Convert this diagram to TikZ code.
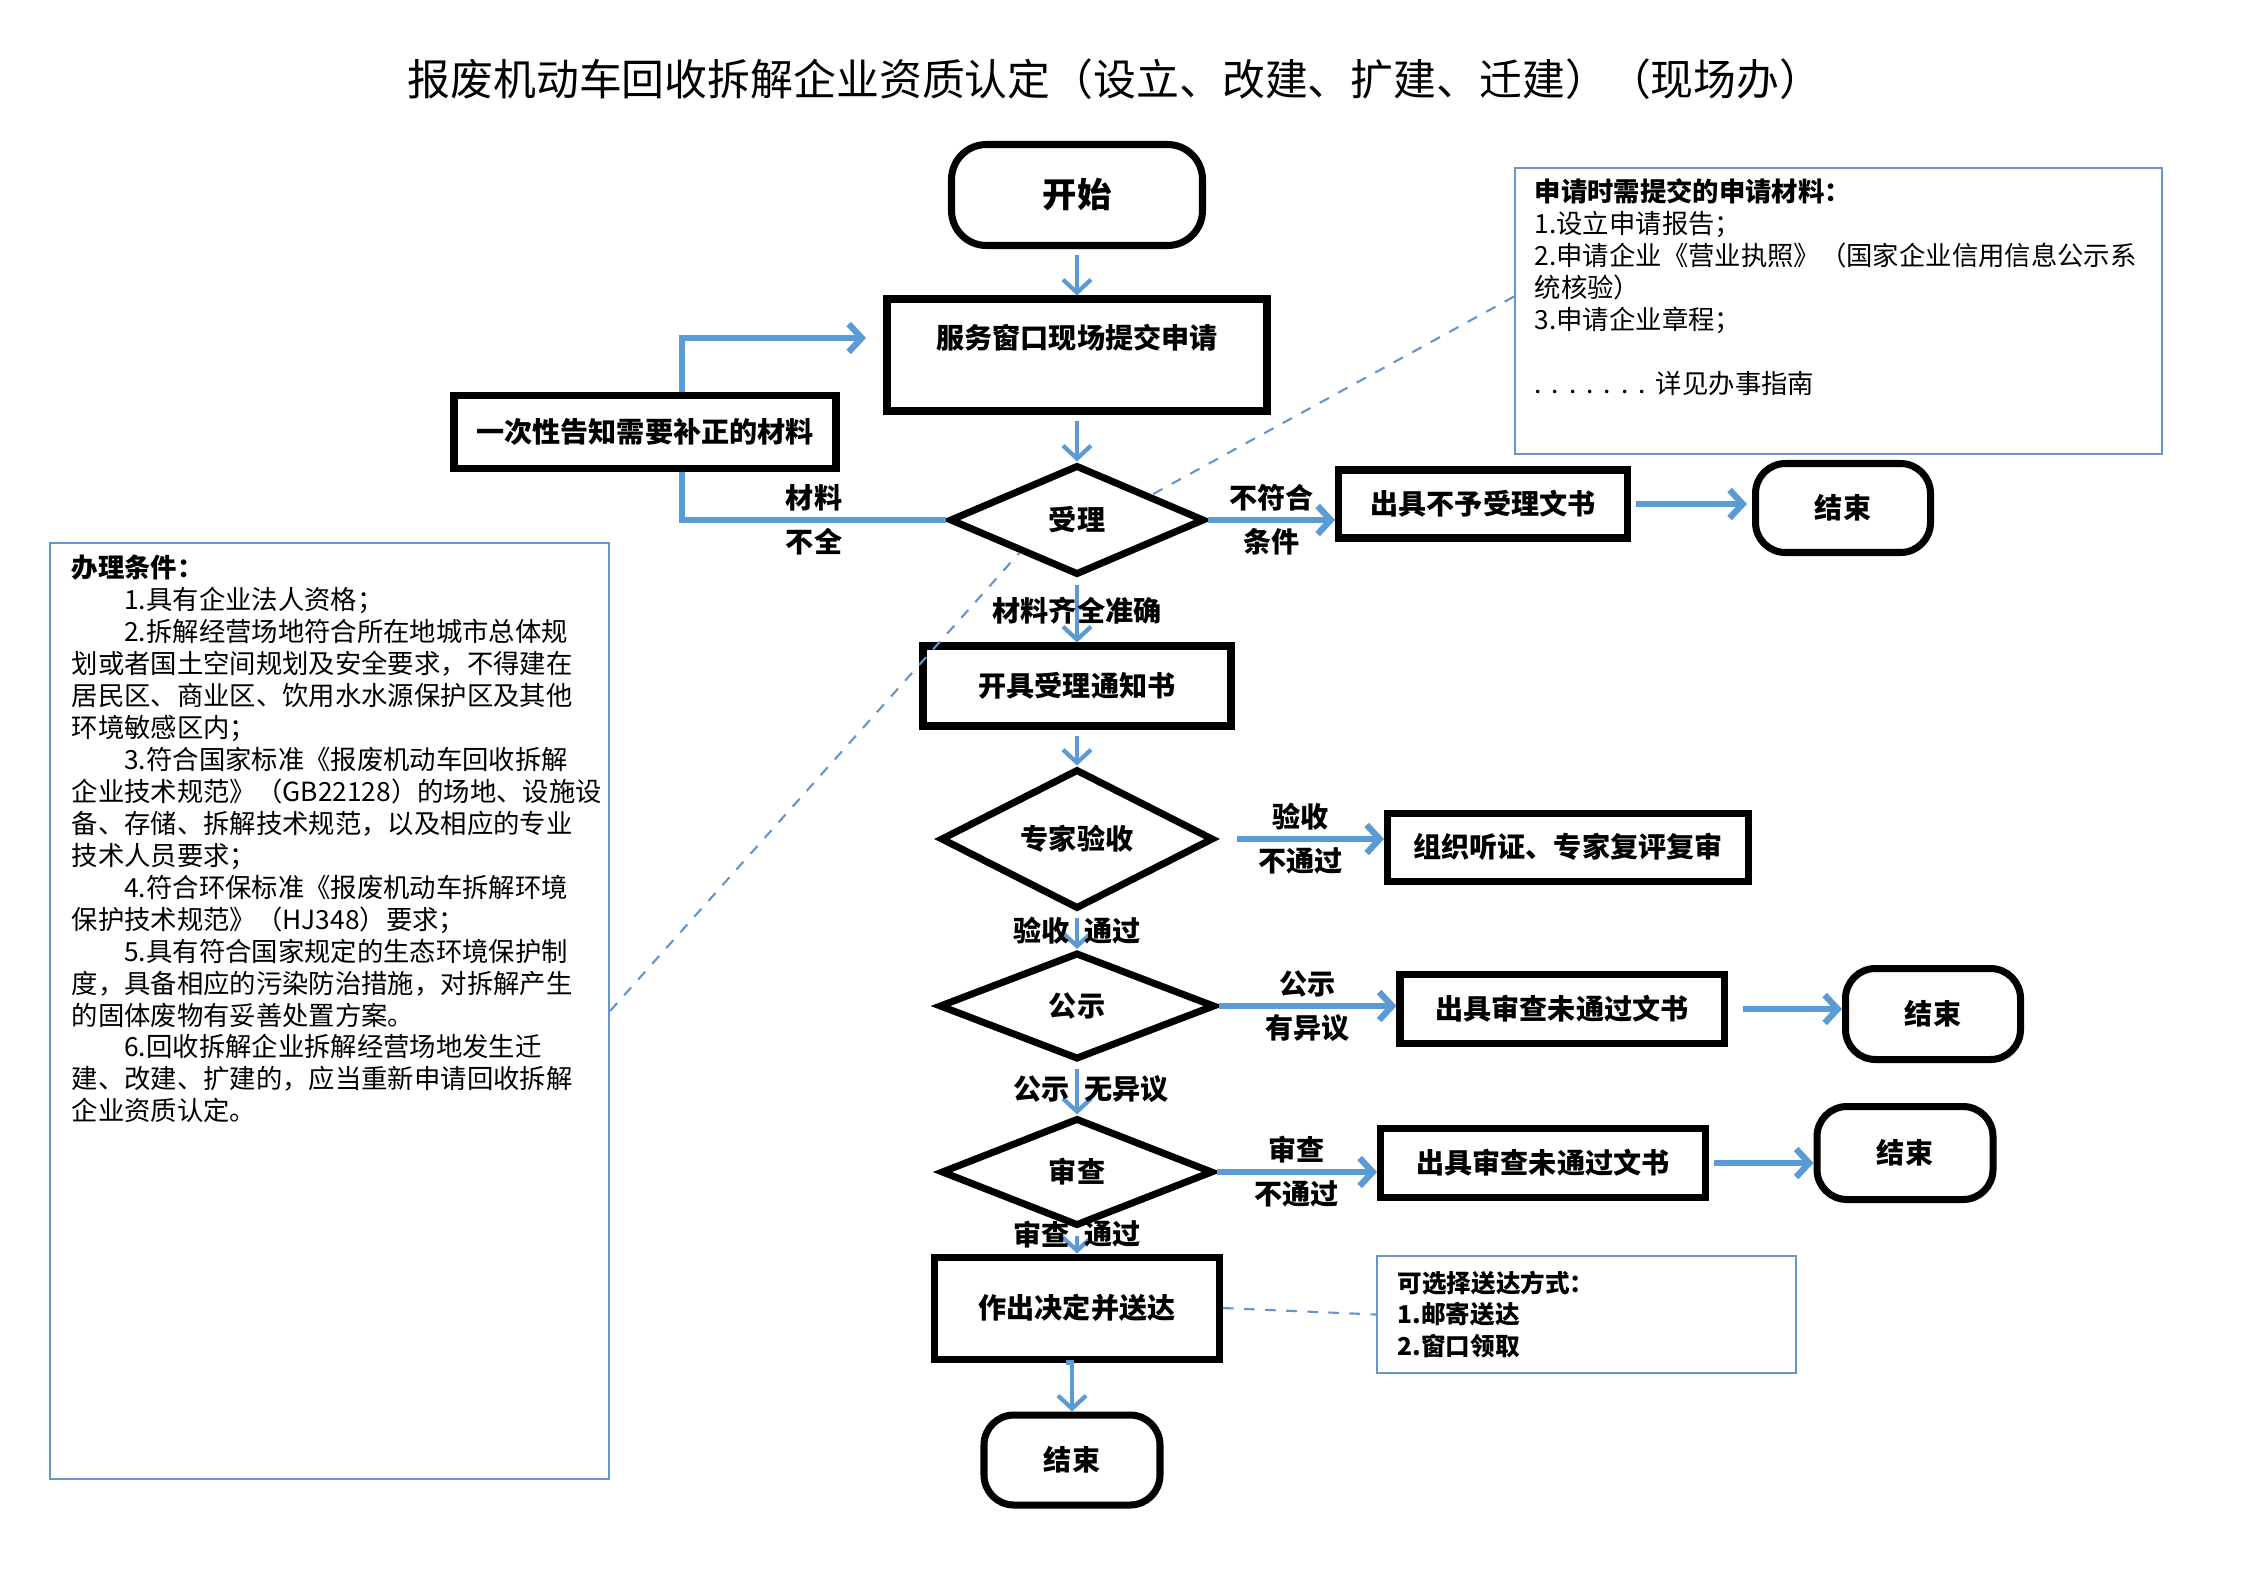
\documentclass[tikz,border=0pt]{standalone}
\usepackage{fontspec}
\setmainfont{Noto Sans CJK SC}
\usepackage{tikz}
\usetikzlibrary{arrows.meta,calc,positioning,shapes.geometric}
\definecolor{FlowBlue}{RGB}{91,155,213}
\definecolor{NoteBlue}{RGB}{100,150,205}

\begin{document}
\begin{tikzpicture}[x=1cm,y=-1cm,>={Straight Barb[length=1.3mm,width=2.8mm]},
    flowbox/.style={draw,line width=2pt,rectangle,inner sep=0pt,font=\fontsize{8}{9.6}\selectfont\bfseries},
    decision/.style={draw,line width=2pt,diamond,inner sep=0pt,font=\fontsize{8}{9.6}\selectfont\bfseries},
    terminal/.style={draw,line width=2pt,rectangle,rounded corners=3mm,inner sep=0pt,font=\fontsize{8}{9.6}\selectfont\bfseries},
    noteframe/.style={draw=NoteBlue,line width=0.6pt,rectangle,inner sep=0pt},
    notetext/.style={align=left,inner sep=0pt,font=\fontsize{7.5}{9.1}\selectfont},
    flowarrow/.style={->,draw=FlowBlue,line width=1.2pt,shorten <=0.6mm},
    thickarrow/.style={->,draw=FlowBlue,line width=1.8pt},
    linkdash/.style={draw=NoteBlue,dashed,line width=0.6pt},
    edgelab/.style={text=black,font=\fontsize{8}{9.6}\selectfont\bfseries,inner sep=1.5pt}]
        \path[use as bounding box,fill=white] (0,0) rectangle (22.45,15.87);
        \node[font=\fontsize{12.2}{15}\selectfont] (title) at (11.15,0.79) {报废机动车回收拆解企业资质认定（设立、改建、扩建、迁建）（现场办）};
        \node[terminal,minimum width=2.51cm,minimum height=1.01cm,rounded corners=3.5mm,font=\fontsize{9.8}{12}\selectfont\bfseries] (start) at (10.77,1.95) {开始};
        \node[flowbox,minimum width=3.80cm,minimum height=1.12cm] (submit) at (10.77,3.55) {\raisebox{0.065cm}[0pt][0pt]{服务窗口现场提交申请}};
        \node[flowbox,minimum width=3.82cm,minimum height=0.73cm] (notify) at (6.45,4.32) {一次性告知需要补正的材料};
        \node[decision,minimum width=2.55cm,minimum height=1.10cm] (accept) at (10.77,5.20) {受理};
        \node[flowbox,minimum width=2.89cm,minimum height=0.68cm] (reject) at (14.83,5.04) {出具不予受理文书};
        \node[terminal,minimum width=1.75cm,minimum height=0.89cm] (end1) at (18.43,5.08) {结束};
        \node[flowbox,minimum width=3.08cm,minimum height=0.80cm] (notice) at (10.77,6.86) {开具受理通知书};
        \node[decision,minimum width=2.73cm,minimum height=1.03cm] (expert) at (10.77,8.39) {专家验收};
        \node[flowbox,minimum width=3.61cm,minimum height=0.68cm] (hearing) at (15.68,8.47) {组织听证、专家复评复审};
        \node[decision,minimum width=2.76cm,minimum height=1.07cm] (publicity) at (10.77,10.06) {公示};
        \node[flowbox,minimum width=3.24cm,minimum height=0.69cm] (objection) at (15.62,10.09) {出具审查未通过文书};
        \node[terminal,minimum width=1.75cm,minimum height=0.91cm] (end2) at (19.33,10.14) {结束};
        \node[decision,minimum width=2.72cm,minimum height=1.08cm] (audit) at (10.77,11.72) {审查};
        \node[flowbox,minimum width=3.25cm,minimum height=0.69cm] (refuse) at (15.43,11.63) {出具审查未通过文书};
        \node[terminal,minimum width=1.76cm,minimum height=0.93cm] (end3) at (19.05,11.53) {结束};
        \node[flowbox,minimum width=2.85cm,minimum height=1.02cm] (decide) at (10.77,13.08) {作出决定并送达};
        \node[terminal,minimum width=1.76cm,minimum height=0.90cm] (end4) at (10.72,14.60) {结束};
        \node[noteframe,minimum width=6.47cm,minimum height=2.86cm] (matbox) at (18.385,3.11) {};
        \node[notetext,anchor=north west] (mattext) at ($(matbox.north west)+(0.20,0.11)$) {{\bfseries 申请时需提交的申请材料：}\\
            1.设立申请报告；\\
            2.申请企业《营业执照》（国家企业信用信息公示系\\
            统核验）\\
            3.申请企业章程；\\[0.32cm]
            .\hspace{1mm}.\hspace{1mm}.\hspace{1mm}.\hspace{1mm}.\hspace{1mm}.\hspace{1mm}.\hspace{1mm}详见办事指南};
        \node[noteframe,minimum width=5.59cm,minimum height=9.36cm] (condbox) at (3.295,10.11) {};
        \node[notetext,anchor=north west] (condtext) at ($(condbox.north west)+(0.22,0.12)$) {{\bfseries 办理条件：}\\
            \hspace*{2em}1.具有企业法人资格；\\
            \hspace*{2em}2.拆解经营场地符合所在地城市总体规\\
            划或者国土空间规划及安全要求，不得建在\\
            居民区、商业区、饮用水水源保护区及其他\\
            环境敏感区内；\\
            \hspace*{2em}3.符合国家标准《报废机动车回收拆解\\
            企业技术规范》（GB22128）的场地、设施设\\
            备、存储、拆解技术规范，以及相应的专业\\
            技术人员要求；\\
            \hspace*{2em}4.符合环保标准《报废机动车拆解环境\\
            保护技术规范》（HJ348）要求；\\
            \hspace*{2em}5.具有符合国家规定的生态环境保护制\\
            度，具备相应的污染防治措施，对拆解产生\\
            的固体废物有妥善处置方案。\\
            \hspace*{2em}6.回收拆解企业拆解经营场地发生迁\\
            建、改建、扩建的，应当重新申请回收拆解\\
            企业资质认定。};
        \node[noteframe,minimum width=4.19cm,minimum height=1.17cm] (sendbox) at (15.865,13.145) {};
        \node[notetext,anchor=north west,font=\fontsize{7}{9}\selectfont\bfseries] (sendtext) at ($(sendbox.north west)+(0.21,0.15)$) {可选择送达方式：\\1.邮寄送达\\2.窗口领取};
        \coordinate (bend) at (6.82,5.20);
        \coordinate (back) at (8.66,3.38);
        \draw[flowarrow] (start) -- (submit);
        \draw[flowarrow] (submit) -- (accept);
        \draw[FlowBlue,line width=1.8pt] (accept.west) -- node[edgelab,above]{材料} node[edgelab,below]{不全} (bend) -- (bend |- notify.south);
        \draw[thickarrow] (bend |- notify.north) |- (back);
        \draw[thickarrow] (accept.east) -- node[edgelab,above]{不符合} node[edgelab,below]{条件} (accept.east -| reject.west);
        \draw[thickarrow,shorten <=0.5mm,shorten >=0.5mm] (reject.east) -- (reject.east -| end1.west);
        \draw[flowarrow] (accept) -- node[edgelab]{材料齐全准确} (notice);
        \draw[flowarrow] (notice) -- (expert);
        \draw[thickarrow,shorten <=2mm] (expert.east) -- node[edgelab,above]{验收} node[edgelab,below]{不通过} (expert.east -| hearing.west);
        \draw[flowarrow] (expert) -- node[edgelab,left]{验收} node[edgelab,right]{通过} (publicity);
        \draw[thickarrow] (publicity.east) -- node[edgelab,above]{公示} node[edgelab,below]{有异议} (publicity.east -| objection.west);
        \draw[thickarrow,shorten <=1.5mm] (objection.east) -- (objection.east -| end2.west);
        \draw[flowarrow] (publicity) -- node[edgelab,left]{公示} node[edgelab,right]{无异议} (audit);
        \draw[thickarrow] (audit.east) -- node[edgelab,above]{审查} node[edgelab,below]{不通过} (audit.east -| refuse.west);
        \draw[thickarrow,shorten <=0.5mm] (refuse.east) -- (refuse.east -| end3.west);
        \draw[flowarrow] (audit) -- node[edgelab,left,pos=0.2]{审查} node[edgelab,right,pos=0.2]{通过} (decide);
        \draw[flowarrow] (decide) -- (decide.south -| end4.north) -- (end4);
        \draw[linkdash] (decide.east) -- (sendbox.west);
        \draw[linkdash] ($(matbox.north west)!0.45!(matbox.south west)$) -- ($(accept.north)!0.57!(accept.east)$);
        \draw[linkdash] (condbox.east) -- ($(accept.west)!0.56!(accept.south)$);
      \end{tikzpicture}
\end{document}
